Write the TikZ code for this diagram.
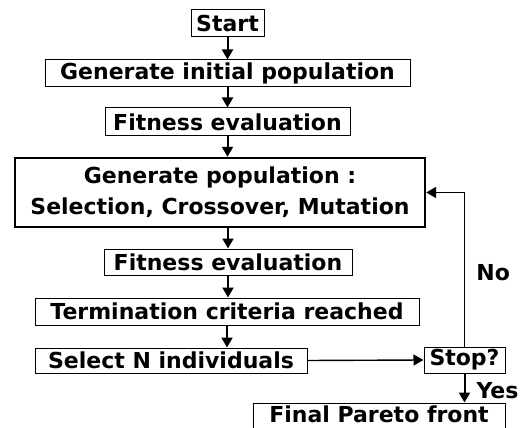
\documentclass[tikz,border=0pt]{standalone}
\usepackage{fontspec}
\setmainfont{DejaVu Sans}
\usetikzlibrary{arrows.meta, positioning}

\begin{document}
\begin{tikzpicture}[
    x=1pt, y=-1pt,
    stepbox/.style={draw, line width=1pt, inner sep=0pt, minimum height=27pt,
                    align=center, font=\fontsize{22}{31}\selectfont\bfseries},
    flow/.style={line width=2pt, -{Triangle[length=10pt,width=11pt]}},
    answer/.style={inner sep=0pt, font=\fontsize{22}{26}\selectfont\bfseries},
]
    \useasboundingbox (0,0) rectangle (523,428);
    % main column
    \node[stepbox, minimum width=73pt] (start) at (227.5,23.5) {Start};
    \node[stepbox, minimum width=365pt] (geninit) at (227.5,73.5) {Generate initial population};
    \node[stepbox, minimum width=245pt, minimum height=28pt] (fit1) at (227.5,122) {Fitness evaluation};
    \node[stepbox, minimum width=410pt, minimum height=69pt, line width=2.4pt] (genpop) at (220,192.5) {
        Generate population :\\
        Selection, Crossover, Mutation
    };
    \node[stepbox, minimum width=248pt, minimum height=26pt] (fit2) at (228,262) {Fitness evaluation};
    \node[stepbox, minimum width=384pt] (term) at (227,311.5) {Termination criteria reached};
    \node[stepbox, minimum width=272pt, minimum height=25pt] (seln) at (171,360.5) {Select N individuals};
    \node[stepbox, minimum width=81pt, minimum height=26pt] (stop) at (464.5,360) {Stop?};
    \node[stepbox, minimum width=252pt, text height=16pt, text depth=5pt] (final) at (379,416.5) {Final Pareto front};

    \draw[flow] (start.south) -- (start.south |- geninit.north);
    \draw[flow] (geninit.south) -- (geninit.south |- fit1.north);
    \draw[flow] (fit1.south) -- (fit1.south |- genpop.north);
    \draw[flow] (fit2.north |- genpop.south) -- (fit2.north);
    \draw[flow] (fit2.south) -- (fit2.south |- term.north);
    \draw[flow] (term.south) -- (term.south |- seln.north);
    \draw[flow, line width=1.4pt] (seln.east) -- (stop.west);
    % loop back
    \draw[flow, line width=1.8pt] (stop.north) |- (genpop.east)
        node[answer, pos=0.24, right=11pt] (no) {No};
    \draw[flow] (stop.south) -- (stop.south |- final.north)
        node[answer, pos=0.6, right=11pt] (yes) {Yes};
\end{tikzpicture}
\end{document}
